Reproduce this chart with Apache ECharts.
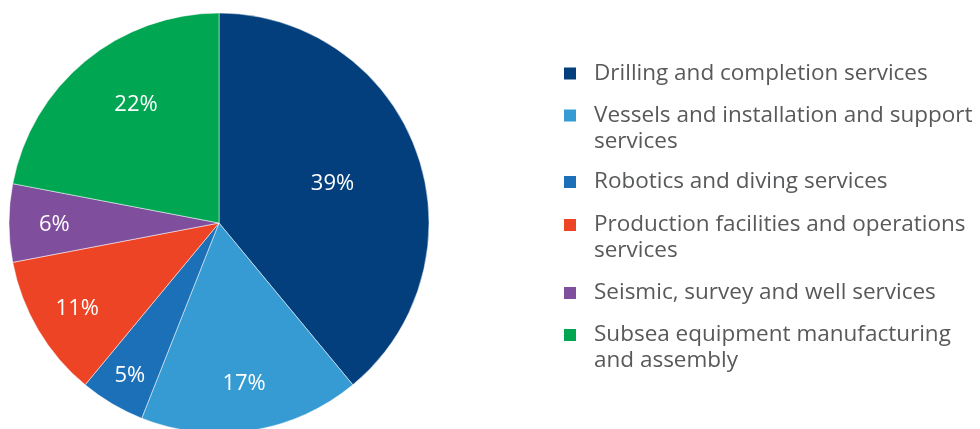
<!DOCTYPE html>
<html><head><meta charset="utf-8">
<script src="https://cdn.jsdelivr.net/npm/echarts@6/dist/echarts.min.js"></script>
<style>html,body{margin:0;padding:0;background:#fff}#c{width:980px;height:429px}</style>
</head><body><div id="c"></div>
<script>
const categories = [
  'Drilling and completion services',
  'Vessels and installation and support\nservices',
  'Robotics and diving services',
  'Production facilities and operations\nservices',
  'Seismic, survey and well services',
  'Subsea equipment manufacturing\nand assembly'
];
const values = [39, 17, 5, 11, 6, 22];
const colors = ['#023f7c', '#359bd2', '#1b70b8', '#ee4426', '#7f4e9c', '#00a651'];
// label distance from centre as fraction of radius, and angular nudge in degrees (style)
const labelRadius = [0.56, 0.75, 0.82, 0.77, 0.77, 0.68];
const labelNudge = [0, 0, 0, 0, 0, 5];
// legend icon centre y (layout)
const legendY = [73.5, 115.5, 182, 225, 293, 335];

const R = 210, CX = 219, CY = 223;
const FONT = '"Open Sans", Lato, sans-serif';
const FS = 22.5;
const total = values.reduce((a, b) => a + b, 0);
let cum = 0;
const data = values.map((v, i) => {
  const mid = (cum + v / 2) / total * 2 * Math.PI;
  const tgt = mid + labelNudge[i] * Math.PI / 180;
  cum += v;
  const r0 = 0.5 * R, r1 = labelRadius[i] * R;
  return {
    name: categories[i], value: v,
    itemStyle: { color: colors[i] },
    label: { offset: [r1 * Math.sin(tgt) - r0 * Math.sin(mid), -r1 * Math.cos(tgt) + r0 * Math.cos(mid) + 2] }
  };
});

const legends = categories.map((name, i) => {
  const lines = name.split('\n');
  const two = lines.length > 1;
  return {
    orient: 'vertical', left: 564, top: legendY[i] - (two ? 39 : 13),
    padding: 0, itemWidth: 12, itemHeight: 12, itemGap: 0,
    icon: 'rect', selectedMode: false,
    data: [name],
    formatter: () => (two ? '{s| }\n' : '') + lines.map(l => '{s| }{t|' + l + '}').join('\n'),
    textStyle: {
      fontFamily: FONT, fontSize: FS, color: '#58595b', lineHeight: 26,
      rich: {
        s: { width: 13, fontSize: FS, lineHeight: 26 },
        t: { fontFamily: FONT, fontSize: FS, color: '#58595b', lineHeight: 26 }
      }
    },
    itemStyle: { borderWidth: 0 }
  };
});

const chart = echarts.init(document.getElementById('c'), null, { renderer: 'canvas' });
chart.setOption({
  animation: false,
  legend: legends,
  series: [{
    type: 'pie', center: [CX, CY], radius: [0, R],
    startAngle: 90, clockwise: true, silent: true,
    itemStyle: { borderColor: '#ffffff', borderWidth: 0.5 },
    label: {
      show: true, position: 'inside', formatter: '{c}%',
      color: '#ffffff', fontFamily: FONT, fontSize: 22
    },
    labelLine: { show: false },
    data: data
  }]
});
</script></body></html>
